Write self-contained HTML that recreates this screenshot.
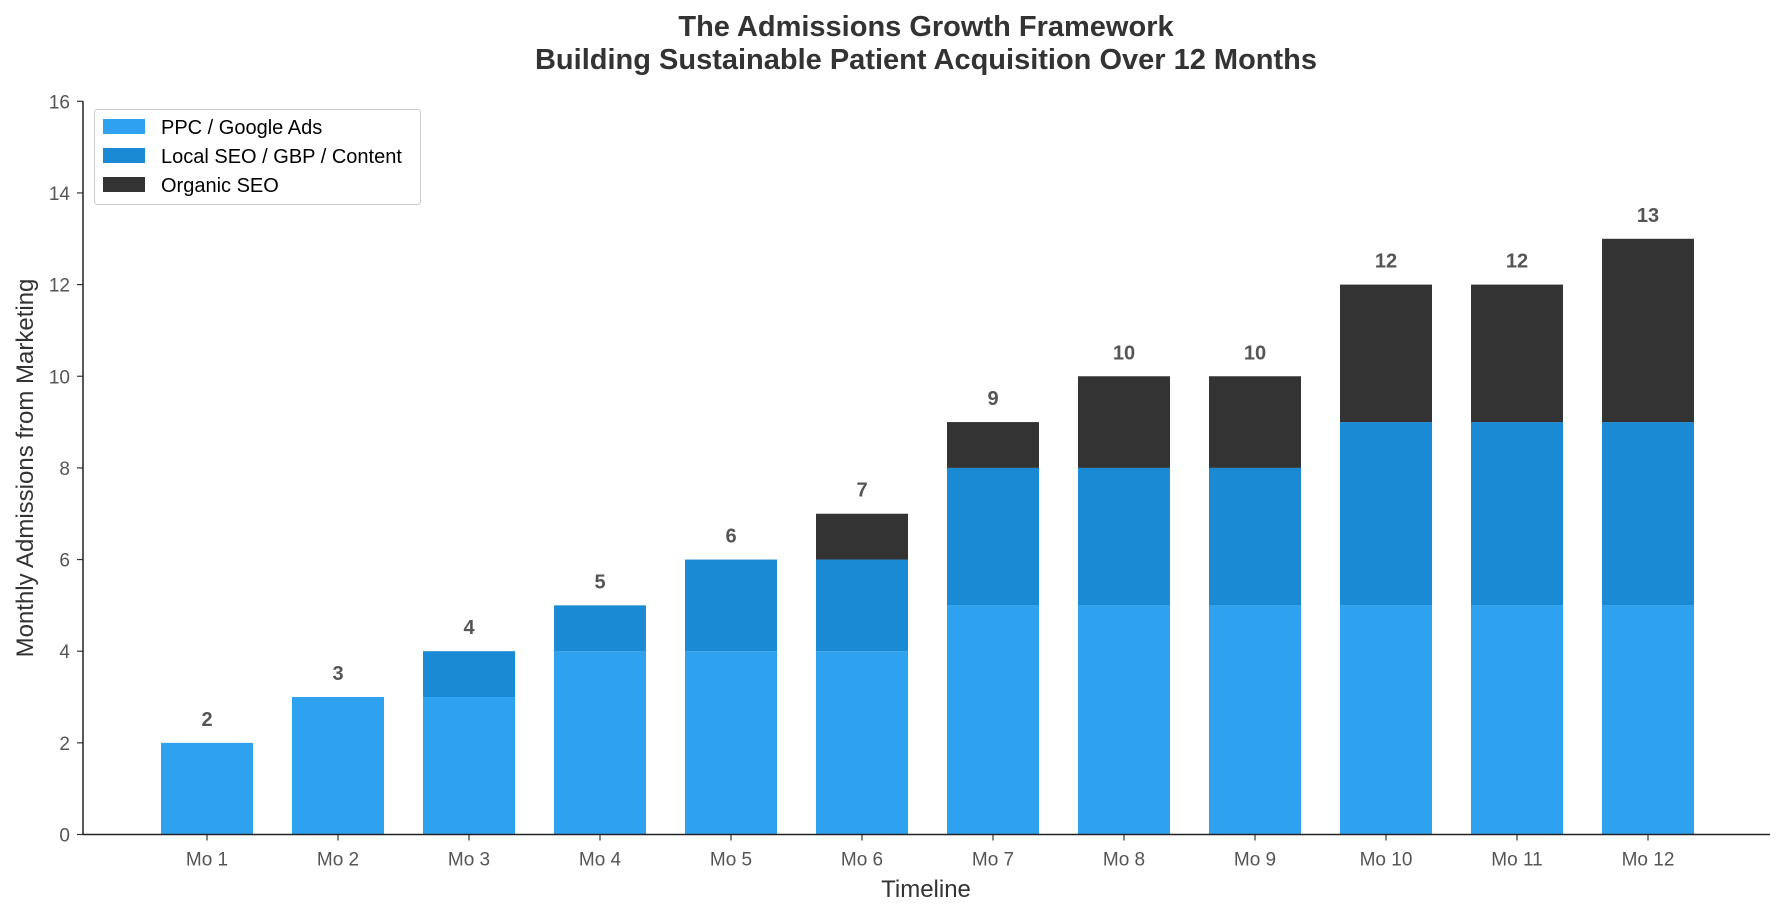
<!DOCTYPE html>
<html><head><meta charset="utf-8"><style>
body{margin:0;background:#fff;}
svg{font-family:"Liberation Sans",Arial,sans-serif;display:block}
</style></head><body>
<svg id="chart" width="1785" height="915">
<text x="926" y="36" text-anchor="middle" font-size="29" font-weight="bold" fill="#333">The Admissions Growth Framework</text>
<text x="926" y="69" text-anchor="middle" font-size="29" font-weight="bold" fill="#333">Building Sustainable Patient Acquisition Over 12 Months</text>
<g id="plot"></g>
<text x="926" y="897" text-anchor="middle" font-size="24" fill="#333">Timeline</text>
<text transform="translate(33,468) rotate(-90)" text-anchor="middle" font-size="24" fill="#333">Monthly Admissions from Marketing</text>
<g>
<rect x="94.5" y="109.5" width="326" height="95" rx="3" fill="#fff" stroke="#ccc"/>
<rect x="103" y="119" width="42" height="15" fill="#2ea2ef"/>
<text x="161" y="134" font-size="20" fill="#000">PPC / Google Ads</text>
<rect x="103" y="148" width="42" height="15" fill="#1b8ad4"/>
<text x="161" y="163" font-size="20" fill="#000">Local SEO / GBP / Content</text>
<rect x="103" y="177" width="42" height="15" fill="#333333"/>
<text x="161" y="192" font-size="20" fill="#000">Organic SEO</text>
</g>
</svg>
<script>
const categories=["Mo 1","Mo 2","Mo 3","Mo 4","Mo 5","Mo 6","Mo 7","Mo 8","Mo 9","Mo 10","Mo 11","Mo 12"];
const ppc=[2,3,3,4,4,4,5,5,5,5,5,5];
const localSeo=[0,0,1,1,2,2,3,3,3,4,4,4];
const organic=[0,0,0,0,0,1,1,2,2,3,3,4];
const yTicks=[0,2,4,6,8,10,12,14,16];
const NS="http://www.w3.org/2000/svg";
const g=document.getElementById('plot');
const L=83,R=1770,T=101.3,B=834.5,yMax=16;
const y=v=>B-(v/yMax)*(B-T);
const x=i=>207+i*131;
const bw=92;
function mk(t,a){const e=document.createElementNS(NS,t);for(const k in a)e.setAttribute(k,a[k]);g.appendChild(e);return e;}
yTicks.forEach(v=>{
 const l=mk('line',{x1:L-6,x2:L,y1:y(v),y2:y(v),stroke:'#333','stroke-width':1.2});
 
 
 const t=mk('text',{x:L-13,y:y(v)+7,'text-anchor':'end','font-size':19,fill:'#555'});t.textContent=v;
 
 
});
const series=[[ppc,'#2ea2ef','bar-ppc'],[localSeo,'#1b8ad4','bar-local-seo'],[organic,'#333333','bar-organic-seo']];
categories.forEach((c,i)=>{
 let base=0;
 series.forEach(([arr,col,nm])=>{
  const v=arr[i]; if(v>0){
   const r=mk('rect',{x:x(i)-bw/2,y:y(base+v),width:bw,height:y(base)-y(base+v),fill:col});
   
   
  } base+=v;});
 const vt=mk('text',{x:x(i),y:y(base)-17,'text-anchor':'middle','font-size':20,'font-weight':'bold',fill:'#555'});vt.textContent=base;
 
 
 const tk=mk('line',{x1:x(i),x2:x(i),y1:B,y2:B+6,stroke:'#333','stroke-width':1.2});
 
 
 const xt=mk('text',{x:x(i),y:B+31,'text-anchor':'middle','font-size':19,fill:'#555'});xt.textContent=c;
 
 
});
const ya=mk('line',{x1:L,x2:L,y1:T,y2:B,stroke:'#222','stroke-width':1.5});


const xa=mk('line',{x1:L,x2:R,y1:B,y2:B,stroke:'#222','stroke-width':1.5});


</script>
</body></html>
